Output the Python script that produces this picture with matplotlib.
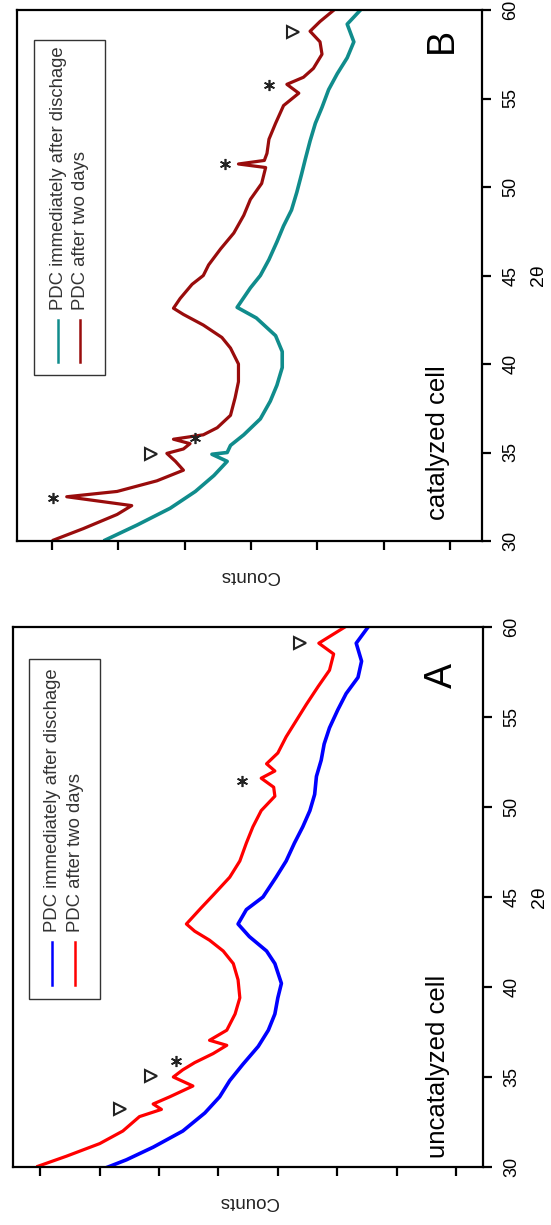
import matplotlib
matplotlib.use("Agg")
import matplotlib.pyplot as plt
from matplotlib.patches import Rectangle

plt.rcParams['font.family'] = ['Liberation Sans', 'DejaVu Sans']

# ---------------- data (2theta in degrees, counts in a.u. = tick units) -------------
a_red_theta = [30.04, 30.6, 31.3, 32.0, 32.8, 33.2, 33.5, 33.9, 34.5, 35.0, 35.4, 35.8,
               36.3, 36.76, 37.04, 37.6, 38.5, 39.4, 40.4, 41.3, 42.0, 42.6, 43.1, 43.5,
               44.4, 45.1, 46.1, 47.0, 48.0, 48.9, 49.8, 50.6, 51.1, 51.6, 52.0, 52.4,
               53.0, 53.9, 54.8, 55.7, 56.7, 57.6, 58.5, 59.1, 60.0]
a_red_counts = [8.04, 7.56, 7.00, 6.61, 6.33, 5.96, 6.10, 5.82, 5.43, 5.76, 5.60, 5.40,
                5.09, 4.86, 5.15, 4.86, 4.72, 4.64, 4.67, 4.75, 4.92, 5.15, 5.40, 5.54,
                5.29, 5.09, 4.81, 4.64, 4.53, 4.42, 4.28, 4.05, 4.07, 4.28, 4.05, 4.19,
                4.00, 3.86, 3.69, 3.52, 3.32, 3.13, 3.06, 3.31, 2.87]

a_blue_theta = [30.0, 30.4, 31.1, 32.0, 33.0, 33.9, 34.8, 35.7, 36.7, 37.6, 38.5, 39.4,
                40.2, 41.3, 42.0, 42.8, 43.5, 44.3, 45.0, 46.1, 47.0, 48.0, 48.9, 49.8,
                50.7, 51.7, 52.6, 53.5, 54.4, 55.4, 56.3, 57.2, 58.1, 59.1, 60.0]
a_blue_counts = [6.86, 6.55, 6.10, 5.60, 5.23, 4.98, 4.81, 4.59, 4.33, 4.16, 4.05, 4.00,
                 3.94, 4.05, 4.19, 4.48, 4.67, 4.53, 4.25, 4.03, 3.86, 3.72, 3.58, 3.46,
                 3.38, 3.35, 3.27, 3.22, 3.13, 2.99, 2.85, 2.65, 2.59, 2.68, 2.48]

b_red_theta = [30.05, 30.7, 31.5, 32.0, 32.5, 32.8, 33.4, 34.0, 34.5, 34.95, 35.2, 35.5,
               35.75, 36.0, 36.4, 37.1, 38.1, 39.0, 40.0, 40.9, 41.5, 42.2, 42.8, 43.15,
               43.7, 44.5, 45.0, 45.6, 46.5, 47.4, 48.4, 49.3, 50.2, 51.1, 51.3, 51.5,
               51.9, 52.7, 53.6, 54.6, 55.3, 55.8, 56.2, 56.7, 57.5, 58.2, 58.8, 59.35, 60.0]
b_red_counts = [6.98, 6.53, 6.02, 5.80, 6.78, 6.02, 5.42, 5.02, 5.14, 5.27, 5.02, 4.92,
                5.17, 4.72, 4.51, 4.31, 4.24, 4.19, 4.19, 4.31, 4.44, 4.72, 5.02, 5.17,
                5.07, 4.89, 4.72, 4.64, 4.46, 4.26, 4.11, 4.01, 3.84, 3.78, 4.19, 3.80,
                3.76, 3.73, 3.63, 3.51, 3.28, 3.46, 3.21, 3.06, 2.93, 2.96, 3.11, 2.96, 2.75]

b_teal_theta = [30.05, 30.9, 31.85, 32.8, 33.7, 34.5, 34.9, 35.0, 35.4, 36.0, 36.9, 37.9,
                38.8, 39.8, 40.7, 41.6, 42.6, 43.2, 44.3, 45.0, 45.9, 46.9, 47.8, 48.7,
                49.7, 50.7, 51.6, 52.6, 53.6, 54.5, 55.5, 56.4, 57.3, 58.2, 59.2, 60.0]
b_teal_counts = [6.20, 5.72, 5.22, 4.84, 4.56, 4.36, 4.59, 4.36, 4.31, 4.11, 3.86, 3.71,
                 3.61, 3.53, 3.53, 3.63, 3.92, 4.21, 4.01, 3.86, 3.73, 3.61, 3.51, 3.39,
                 3.31, 3.24, 3.18, 3.11, 3.03, 2.93, 2.83, 2.70, 2.55, 2.45, 2.55, 2.35]

# annotation marks (counts, 2theta)
a_tri_counts = [3.63, 6.13, 6.65]
a_tri_theta = [59.1, 35.06, 33.24]
a_star_counts = [4.60, 5.71]
a_star_theta = [51.44, 35.87]
b_tri_counts = [3.37, 5.51]
b_tri_theta = [58.76, 34.9]
b_star_counts = [3.73, 4.39, 4.84, 6.98]
b_star_theta = [55.78, 51.3, 35.8, 32.45]

legend_labels = ["PDC immediately after dischage", "PDC after two days"]
theta_ticks = [30, 35, 40, 45, 50, 55, 60]

# ---------------- figure ----------------
fig = plt.figure(figsize=(5.51, 12.25), dpi=100)
axA = fig.add_axes([13/551, 1-1167/1225, 470/551, 540/1225])
axB = fig.add_axes([17/551, 1-541/1225, 465/551, 531/1225])


def style(ax, xlim, nticks):
    ax.set_xlim(*xlim)
    ax.set_ylim(30, 60)
    ax.set_xticks(list(range(1, nticks + 1)))
    ax.set_xticklabels([])
    ax.yaxis.tick_right()
    ax.set_yticks(theta_ticks)
    ax.set_yticklabels([str(t) for t in theta_ticks], rotation=90, va='center')
    ax.tick_params(axis='y', direction='out', length=6.5, width=1.6, labelsize=13,
                   pad=8)
    ax.tick_params(axis='x', direction='out', length=6.5, width=1.6)
    for s in ax.spines.values():
        s.set_linewidth(1.6)
    ax.set_xlabel('Counts', rotation=180, fontsize=13.5, labelpad=9, color='#222222')
    ax.yaxis.set_label_position('right')
    ax.set_ylabel('2θ', rotation=90, fontsize=14, labelpad=8)


def legend(ax, box, xs, y0, y1, colors, ytext):
    ax.add_patch(Rectangle((box[0], box[1]), box[2] - box[0], box[3] - box[1],
                           transform=ax.transAxes, fill=False, lw=1.0,
                           edgecolor='#333333', zorder=5))
    for x, c, lab in zip(xs, colors, legend_labels):
        ax.plot([x, x], [y0, y1], color=c, lw=1.8, transform=ax.transAxes, zorder=6)
        ax.text(x, ytext, lab, transform=ax.transAxes, rotation=90,
                rotation_mode='anchor', ha='left', va='center', fontsize=13.3,
                color='#333333', zorder=6)


# Panel A
c_blue, c_red = '#0000ff', '#ff0000'
axA.plot(a_blue_counts, a_blue_theta, color=c_blue, lw=2.6)
axA.plot(a_red_counts, a_red_theta, color=c_red, lw=2.3)
axA.plot(a_tri_counts, a_tri_theta, ls='none', marker='>', ms=9, mfc='white',
         mec='#222222', mew=1.5)
axA.plot(a_star_counts, a_star_theta, ls='none', marker=(6, 2, 0), ms=8,
         mec='#222222', mew=1.2)
style(axA, (8.46, 0.545), 8)
legend(axA, (0.034, 0.311, 0.185, 0.941), (0.083, 0.132), 0.337, 0.4167,
       (c_blue, c_red), 0.435)
axA.text(0.912, 0.911, 'A', transform=axA.transAxes, rotation=90, ha='center',
         va='center', fontsize=27)
axA.text(0.904, 0.187, 'uncatalyzed cell', transform=axA.transAxes, rotation=90,
         ha='center', va='center', fontsize=18.5)

# Panel B
c_teal, c_dred = '#108c8c', '#990c0c'
axB.plot(b_teal_counts, b_teal_theta, color=c_teal, lw=2.6)
axB.plot(b_red_counts, b_red_theta, color=c_dred, lw=2.3)
axB.plot(b_tri_counts, b_tri_theta, ls='none', marker='>', ms=9, mfc='white',
         mec='#222222', mew=1.5)
axB.plot(b_star_counts, b_star_theta, ls='none', marker=(6, 2, 0), ms=8,
         mec='#222222', mew=1.2)
style(axB, (7.53, 0.517), 7)
legend(axB, (0.0366, 0.3126, 0.189, 0.9435), (0.0882, 0.1355), 0.337, 0.416,
       (c_teal, c_dred), 0.435)
axB.text(0.914, 0.942, 'B', transform=axB.transAxes, rotation=90, ha='center',
         va='center', fontsize=27)
axB.text(0.905, 0.185, 'catalyzed cell', transform=axB.transAxes, rotation=90,
         ha='center', va='center', fontsize=18.5)

fig.savefig('out.png', dpi=100)
